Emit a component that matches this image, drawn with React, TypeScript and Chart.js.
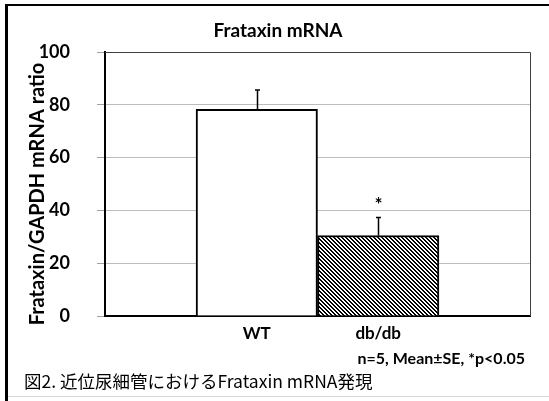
import React, { useEffect, useRef } from "react";
import { Chart, registerables } from "chart.js";

Chart.register(...registerables);

// ---- data ----
const categories: string[] = ["WT", "db/db"];
const means: number[] = [78.3, 30.5];
const errors: number[] = [7.3, 6.8];
const significance: string[] = ["", "*"];
const yMin = 0;
const yMax = 100;
const yStep = 20;
const chartTitle = "Frataxin mRNA";
const yTitle = "Frataxin/GAPDH mRNA ratio";
const note = "n=5, Mean±SE, *p<0.05";
const caption = "図2. 近位尿細管におけるFrataxin mRNA発現";

const FONT = "Lato, 'Noto Sans', sans-serif";

function makeHatch(): CanvasPattern | string {
  const c = document.createElement("canvas");
  c.width = 4;
  c.height = 4;
  const ctx = c.getContext("2d");
  if (!ctx) return "#666";
  const img = ctx.createImageData(4, 4);
  for (let y = 0; y < 4; y++) {
    for (let x = 0; x < 4; x++) {
      const on = ((x - y + 8) % 4) < 2;
      const i = (y * 4 + x) * 4;
      const v = on ? 0 : 255;
      img.data[i] = v;
      img.data[i + 1] = v;
      img.data[i + 2] = v;
      img.data[i + 3] = 255;
    }
  }
  ctx.putImageData(img, 0, 0);
  return ctx.createPattern(c, "repeat") || "#666";
}

const overlayPlugin = {
  id: "overlay",
  afterDatasetsDraw(chart: any) {
    const { ctx, chartArea, scales } = chart;
    const y = scales.y;
    const meta = chart.getDatasetMeta(0);
    ctx.save();
    // plot border (top & right)
    ctx.strokeStyle = "#404040";
    ctx.lineWidth = 1;
    ctx.beginPath();
    ctx.moveTo(chartArea.left, chartArea.top + 0.5);
    ctx.lineTo(chartArea.right + 0.5, chartArea.top + 0.5);
    ctx.lineTo(chartArea.right + 0.5, chartArea.bottom);
    ctx.stroke();
    // error bars
    ctx.strokeStyle = "#000";
    ctx.fillStyle = "#000";
    ctx.lineWidth = 1.5;
    meta.data.forEach((bar: any, i: number) => {
      const x = Math.round(bar.x) + 0.5;
      const yBase = y.getPixelForValue(means[i]);
      const yTop = y.getPixelForValue(means[i] + errors[i]);
      ctx.beginPath();
      ctx.moveTo(x, yBase);
      ctx.lineTo(x, yTop);
      ctx.moveTo(x - 2.5, yTop);
      ctx.lineTo(x + 2.5, yTop);
      ctx.stroke();
      if (significance[i]) {
        ctx.font = `bold 19px ${FONT}`;
        ctx.textAlign = "center";
        ctx.textBaseline = "middle";
        ctx.fillText(significance[i], x, yTop - 13);
      }
    });
    ctx.restore();
  },
  afterDraw(chart: any) {
    const { ctx, chartArea } = chart;
    ctx.save();
    ctx.fillStyle = "#000";
    ctx.textAlign = "center";
    ctx.textBaseline = "middle";
    // chart title
    ctx.font = `bold 19px ${FONT}`;
    ctx.fillText(chartTitle, 278, 31);
    // y axis title
    ctx.translate(38, (chartArea.top + chartArea.bottom) / 2 + 10);
    ctx.rotate(-Math.PI / 2);
    ctx.font = `bold 20px ${FONT}`;
    ctx.fillText(yTitle, 0, 0);
    ctx.restore();
  },
};

export default function App() {
  const canvasRef = useRef<HTMLCanvasElement | null>(null);

  useEffect(() => {
    document.body.style.margin = "0";
    const canvas = canvasRef.current;
    if (!canvas) return;
    const hatch = makeHatch();
    const chart = new Chart(canvas, {
      type: "bar",
      data: {
        datasets: [
          {
            data: categories.map((_, i) => ({ x: i, y: means[i] })),
            backgroundColor: ["#ffffff", hatch as any],
            borderColor: "#000",
            borderWidth: 2,
            barPercentage: 1,
            categoryPercentage: 1,
          },
        ],
      },
      options: {
        responsive: false,
        animation: false,
        devicePixelRatio: 1,
        layout: { padding: { left: 5, right: 19, top: 52, bottom: 0 } },
        plugins: {
          legend: { display: false },
          title: { display: false },
          tooltip: { enabled: false },
        },
        scales: {
          x: {
            type: "linear",
            offset: false,
            min: -1.25,
            max: 2.25,
            afterBuildTicks: (scale: any) => {
              scale.ticks = categories.map((_, i) => ({ value: i }));
            },
            afterFit: (scale: any) => {
              scale.height = 85;
            },
            grid: { display: false, drawTicks: false },
            border: { display: true, color: "#000", width: 2 },
            ticks: {
              autoSkip: false,
              maxRotation: 0,
              padding: 7,
              color: "#000",
              font: { family: FONT, size: 17, weight: "bold" },
              callback: (v: any) => categories[v] ?? "",
            },
          },
          y: {
            min: yMin,
            max: yMax,
            afterFit: (scale: any) => {
              scale.width = 100;
            },
            grid: {
              color: "#bcbcbc",
              lineWidth: 1,
              tickLength: 8,
              tickColor: "#a0a0a0",
            },
            border: { display: true, color: "#000", width: 2 },
            ticks: {
              stepSize: yStep,
              padding: 27,
              color: "#000",
              font: { family: FONT, size: 18, weight: "bold" },
            },
          },
        },
      },
      plugins: [overlayPlugin],
    });
    return () => chart.destroy();
  }, []);

  return (
    <div style={{ position: "relative", width: 549, height: 401, overflow: "hidden", background: "#fff" }}>
      <canvas ref={canvasRef} width={549} height={401} style={{ display: "block" }} />
      <div style={{ position: "absolute", left: 5, top: 4, width: 3, height: 397, background: "#000" }} />
      <div style={{ position: "absolute", left: 5, top: 4, width: 544, height: 2, background: "#000" }} />
      <div style={{ position: "absolute", left: 8, top: 396, width: 541, height: 1, background: "#d8d8d8" }} />
      <div
        style={{
          position: "absolute",
          right: 24,
          top: 349,
          fontFamily: FONT,
          fontWeight: "bold",
          fontSize: 16,
          lineHeight: "18px",
          color: "#000",
          whiteSpace: "nowrap",
        }}
      >
        {note}
      </div>
      <div
        style={{
          position: "absolute",
          left: 24,
          top: 371,
          fontFamily: "'Noto Sans CJK JP', sans-serif",
          fontSize: 17.5,
          lineHeight: "20px",
          color: "#000",
          whiteSpace: "nowrap",
        }}
      >
        {caption}
      </div>
    </div>
  );
}
